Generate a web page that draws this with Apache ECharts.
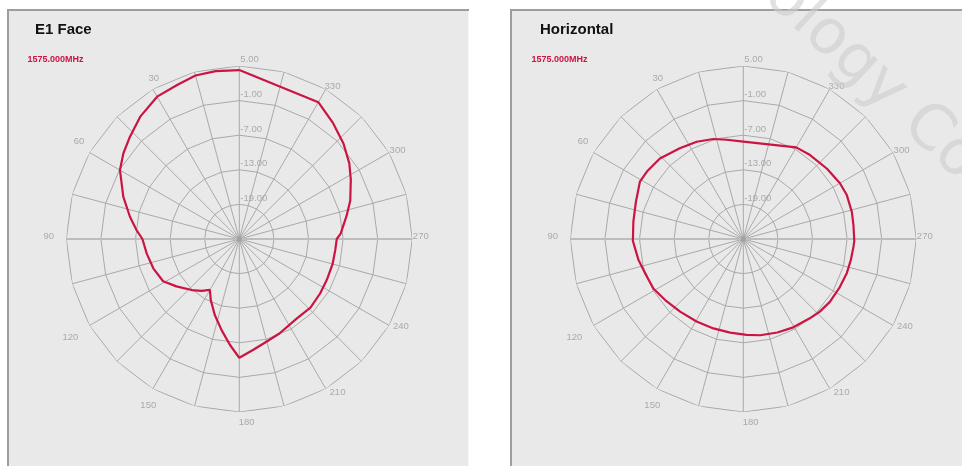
<!DOCTYPE html>
<html>
<head>
<meta charset="utf-8">
<title>Radiation patterns 1575 MHz</title>
<script src="https://cdn.jsdelivr.net/npm/echarts@6/dist/echarts.min.js"></script>
<style>
  html, body { margin: 0; padding: 0; background: #ffffff; }
  #chart { width: 962px; height: 466px; }
</style>
</head>
<body>
<div id="chart"></div>
<script>
// Antenna gain (dB) versus azimuth (degrees, counter-clockwise from the top)
const frequencyLabel = '1575.000MHz';
const panelTitles = ['E1 Face', 'Horizontal'];
const ringTicks = [-25, -19, -13, -7, -1, 5];          // radial scale, dB
const angleTicks = [30, 60, 90, 120, 150, 180, 210, 240, 270, 300, 330];

const e1FaceAngles = [0, 8, 15, 22, 30, 39, 47, 53.5, 60, 70, 78.5, 85, 90, 99, 109, 119, 127, 137, 144, 150,
  155, 162, 169, 175, 180, 187, 195, 203, 216, 226, 236, 245, 255, 263.5, 270, 273, 282, 289, 298, 304.5,
  312.5, 321, 330, 360];
const e1FaceGain = [4.3, 4.4, 4.35, 3.8, 3.5, 2.3, 0.95, 0.0, -1.1, -3.6, -5.65, -7.1, -8.2, -8.75, -9.25, -9.9, -11.35, -12.9, -13.9, -14.8,
  -13.3, -11.2, -8.9, -6.55, -4.4, -5.6, -6.6, -7.2, -8.0, -7.85, -8.1, -8.25, -8.25, -8.25, -8.1, -7.4, -6.0, -4.65, -3.1, -1.85,
  -0.5, 0.85, 2.4, 4.3];

const horizontalAngles = [0, 9.5, 16.7, 25.6, 35, 46, 55, 61, 71, 81, 91, 101, 109, 119, 129, 139, 150.5, 161.5, 172, 182,
  190, 200, 209.5, 220, 226.5, 234, 243.5, 251.5, 259, 266, 269, 277, 284, 293, 300, 310, 321.5, 330, 360];
const horizontalGain = [-8.1, -7.55, -6.9, -6.3, -5.8, -4.9, -4.6, -4.5, -5.3, -5.7, -5.85, -6.45, -6.95, -7.2, -7.85, -8.3, -8.55, -8.65, -8.6, -8.35,
  -8.05, -7.75, -7.4, -7.05, -6.7, -6.45, -6.3, -6.1, -6.0, -5.85, -5.75, -5.75, -5.6, -5.5, -5.65, -6.05, -6.4, -6.65, -8.1];

// ---- styling ----
const FONT = 'Arial, "Liberation Sans", sans-serif';
const GRID_COLOR = '#a9a9a9';
const TEXT_GRAY = '#9a9a9a';
const TRACE_COLOR = '#cc1442';
const SPOKE_STEP = 15;
const panelCenters = [[239.3, 239], [743.3, 239]];
const panelRadius = 173;
// where each azimuth label sits relative to its outer-ring vertex
const angleLabelOffset = {
  30: [1, -11], 60: [-10.5, -11], 90: [-17.6, -3], 120: [-19, 12], 150: [-4.5, 17],
  180: [7.4, 10], 210: [11.7, 4], 240: [11.7, 0.5], 270: [8.5, -3], 300: [8.4, -2.5], 330: [6.7, -2.7]
};

const rMin = ringTicks[0];
const rMax = ringTicks[ringTicks.length - 1];
const spokeAngles = [];
for (let a = 0; a <= 360; a += SPOKE_STEP) spokeAngles.push(a);

function panelSeries(p, angles, gains) {
  const list = [];
  // polygonal rings at each radial tick
  ringTicks.slice(1).forEach(v => {
    list.push({
      type: 'line', coordinateSystem: 'polar', polarIndex: p, silent: true, z: 1,
      symbol: 'none', data: spokeAngles.map(a => [v, a]),
      lineStyle: { color: GRID_COLOR, width: 1 }
    });
  });
  // emphasised 90-270 diameter
  list.push({
    type: 'line', coordinateSystem: 'polar', polarIndex: p, silent: true, z: 1,
    symbol: 'none', data: [[rMax, 90], [rMin, 90], [rMax, 270]],
    lineStyle: { color: '#bdbdbd', width: 2 }
  });
  // hub
  list.push({
    type: 'scatter', coordinateSystem: 'polar', polarIndex: p, silent: true, z: 2,
    symbolSize: 5, data: [[rMin, 0]], itemStyle: { color: '#9c9c9c' }
  });
  // measured pattern
  list.push({
    type: 'line', coordinateSystem: 'polar', polarIndex: p, z: 5,
    symbol: 'none', smooth: false,
    data: angles.map((a, i) => [gains[i], a]),
    lineStyle: { color: TRACE_COLOR, width: 2.2 }
  });
  // radial tick labels along the 0° spoke
  list.push({
    type: 'scatter', coordinateSystem: 'polar', polarIndex: p, silent: true, z: 6,
    symbolSize: 0.1, itemStyle: { color: 'transparent' },
    data: ringTicks.slice(1).map(v => [v, 0]),
    label: {
      show: true, position: 'right', distance: 1, offset: [0, -6.3],
      formatter: d => d.value[0].toFixed(2),
      color: TEXT_GRAY, fontSize: 9.5, fontFamily: FONT
    }
  });
  // azimuth labels around the outer ring
  list.push({
    type: 'scatter', coordinateSystem: 'polar', polarIndex: p, silent: true, z: 6,
    symbolSize: 0.1, itemStyle: { color: 'transparent' },
    data: angleTicks.map(a => ({
      value: [rMax, a],
      label: { offset: angleLabelOffset[a] }
    })),
    label: {
      show: true, position: 'inside',
      formatter: d => String(d.value[1]),
      color: TEXT_GRAY, fontSize: 9.5, fontFamily: FONT
    }
  });
  return list;
}

const polarAxes = [0, 1];
const option = {
  animation: false,
  backgroundColor: '#ffffff',
  title: [
    { text: panelTitles[0], left: 30, top: 17.5, textStyle: { fontSize: 15, fontWeight: 'bold', color: '#111', fontFamily: FONT } },
    { text: panelTitles[1], left: 535, top: 17.5, textStyle: { fontSize: 15, fontWeight: 'bold', color: '#111', fontFamily: FONT } },
    { text: frequencyLabel, left: 22.5, top: 50, textStyle: { fontSize: 9, fontWeight: 'bold', color: TRACE_COLOR, fontFamily: FONT } },
    { text: frequencyLabel, left: 526.5, top: 50, textStyle: { fontSize: 9, fontWeight: 'bold', color: TRACE_COLOR, fontFamily: FONT } }
  ],
  polar: panelCenters.map(c => ({ center: c, radius: panelRadius })),
  angleAxis: polarAxes.map(i => ({
    polarIndex: i, type: 'value', min: 0, max: 360, interval: SPOKE_STEP,
    startAngle: 90, clockwise: false,
    axisLine: { show: false }, axisTick: { show: false }, axisLabel: { show: false },
    splitLine: { show: true, lineStyle: { color: GRID_COLOR, width: 1 } }
  })),
  radiusAxis: polarAxes.map(i => ({
    polarIndex: i, type: 'value', min: rMin, max: rMax, interval: 6,
    axisLine: { show: false }, axisTick: { show: false }, axisLabel: { show: false },
    splitLine: { show: false }
  })),
  graphic: [
    // panel frames
    { type: 'rect', z: -10, silent: true, shape: { x: 7, y: 9, width: 462, height: 460 }, style: { fill: '#e9e9e9' } },
    { type: 'rect', z: -9, silent: true, shape: { x: 7, y: 9, width: 462, height: 2 }, style: { fill: '#9d9d9d' } },
    { type: 'rect', z: -9, silent: true, shape: { x: 7, y: 9, width: 2, height: 460 }, style: { fill: '#9d9d9d' } },
    { type: 'rect', z: -9, silent: true, shape: { x: 468, y: 11, width: 1, height: 458 }, style: { fill: '#f6f6f6' } },
    { type: 'rect', z: -10, silent: true, shape: { x: 510, y: 9, width: 460, height: 460 }, style: { fill: '#e9e9e9' } },
    { type: 'rect', z: -9, silent: true, shape: { x: 510, y: 9, width: 460, height: 2 }, style: { fill: '#9d9d9d' } },
    { type: 'rect', z: -9, silent: true, shape: { x: 510, y: 9, width: 2, height: 460 }, style: { fill: '#9d9d9d' } },
    // faint company watermark
    {
      type: 'text', z: 100, silent: true, x: 773, y: -14, rotation: -43 * Math.PI / 180,
      style: { text: 'ology Co', fontSize: 62, fontFamily: '"DejaVu Sans", sans-serif', fill: 'rgba(205,205,205,0.6)', textVerticalAlign: 'middle' }
    }
  ],
  series: [].concat(
    panelSeries(0, e1FaceAngles, e1FaceGain),
    panelSeries(1, horizontalAngles, horizontalGain)
  )
};

const chart = echarts.init(document.getElementById('chart'), null, { renderer: 'canvas' });
chart.setOption(option);
</script>
</body>
</html>
